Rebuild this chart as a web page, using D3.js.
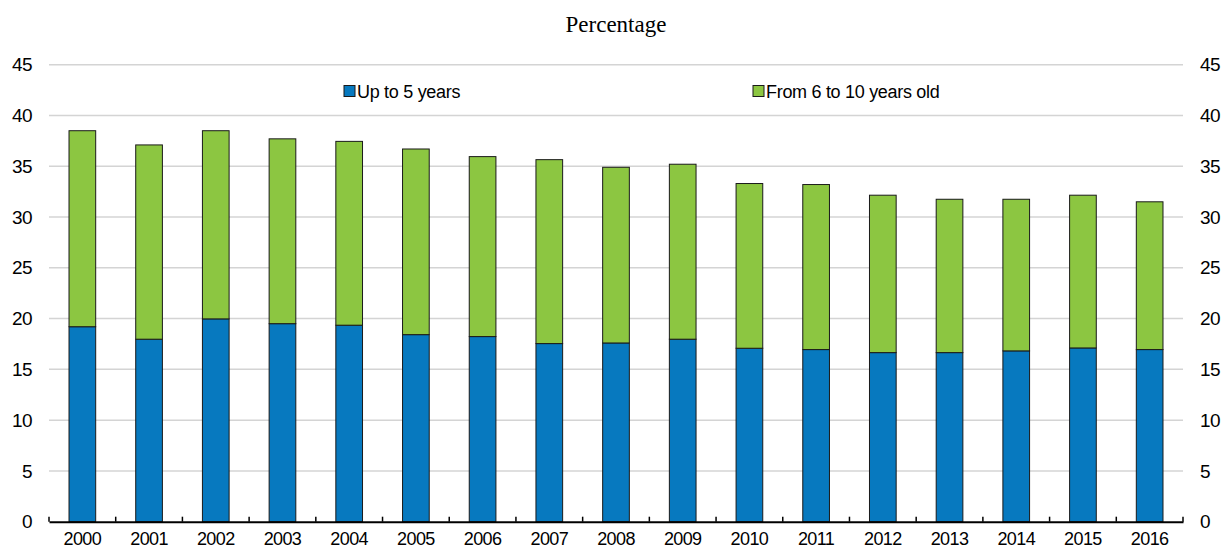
<!DOCTYPE html>
<html><head><meta charset="utf-8">
<script src="https://cdn.jsdelivr.net/npm/d3@7"></script>
<style>body{margin:0;background:#fff}svg{display:block}</style>
</head><body><svg id="c" width="1224" height="550"></svg>
<script>
const years = ["2000","2001","2002","2003","2004","2005","2006","2007","2008","2009","2010","2011","2012","2013","2014","2015","2016"];
const upTo5 = [19.2,17.97,19.97,19.5,19.35,18.42,18.23,17.54,17.6,17.97,17.08,16.95,16.65,16.65,16.82,17.11,16.95];
const from6to10 = [19.3,19.13,18.53,18.2,18.1,18.28,17.72,18.11,17.3,17.23,16.22,16.25,15.5,15.1,14.93,15.04,14.55];
const seriesNames = ["Up to 5 years","From 6 to 10 years old"];
const colors = ["#0779BF","#8CC641"];
const yTicks = [0,5,10,15,20,25,30,35,40,45];
const title = "Percentage";

const svg = d3.select("#c");
const L = 49, R = 1183, T = 64.7, B = 521.7;
const x = d3.scaleBand().domain(years).range([L,R]).paddingInner(0.6).paddingOuter(0.3);
const xb = d3.scaleBand().domain(years).range([L,R]);
const y = d3.scaleLinear().domain([0,45]).range([B,T]);
const font = "'Liberation Sans',Arial,sans-serif";

// gridlines
svg.append("g").selectAll("line").data(yTicks.filter(d=>d>0)).join("line")
  .attr("x1",L).attr("x2",R).attr("y1",d=>y(d)).attr("y2",d=>y(d))
  .attr("stroke","#d4d4d4").attr("stroke-width",1.5);

// title
svg.append("text").attr("x",(L+R)/2).attr("y",32).attr("text-anchor","middle")
  .attr("font-family","'Liberation Serif','Times New Roman',serif").attr("font-size",23)
  .attr("fill","#000").text(title);

// stacked bars
const data = years.map((yr,i)=>({year:yr, a:upTo5[i], b:from6to10[i]}));
const stack = d3.stack().keys(["a","b"])(data);
svg.append("g").selectAll("g").data(stack).join("g")
  .attr("fill",(d,i)=>colors[i])
  .selectAll("rect").data(d=>d).join("rect")
  .attr("x",d=>x(d.data.year)).attr("width",x.bandwidth())
  .attr("y",d=>y(d[1])).attr("height",d=>y(d[0])-y(d[1]))
  .attr("stroke","#1a1a1a").attr("stroke-width",1);

// x axis
const xAxis = d3.axisBottom(xb).tickSize(0).tickPadding(0);
const gx = svg.append("g").attr("transform",`translate(0,${B})`).call(xAxis);
gx.select(".domain").attr("stroke","#000").attr("stroke-width",2);
gx.selectAll("text").attr("font-family",font).attr("font-size",18).attr("fill","#000")
  .attr("letter-spacing","-0.6px").attr("dy",null).attr("y",23);
// category boundary ticks
svg.append("g").selectAll("line").data(years.map(d=>xb(d)).concat([R])).join("line")
  .attr("x1",d=>d).attr("x2",d=>d).attr("y1",B-5).attr("y2",B)
  .attr("stroke","#000").attr("stroke-width",1.5);

// y axes
const yl = svg.append("g").attr("transform",`translate(${L},0)`)
  .call(d3.axisLeft(y).tickValues(yTicks).tickSize(0).tickPadding(17));
const yr = svg.append("g").attr("transform",`translate(${R},0)`)
  .call(d3.axisRight(y).tickValues(yTicks).tickSize(0).tickPadding(17));
[yl,yr].forEach(g=>{
  g.select(".domain").remove();
  g.selectAll("text").attr("font-family",font).attr("font-size",19).attr("fill","#000")
    .attr("letter-spacing","-0.6px");
});

// legend
const legX = [344, 753];
const lg = svg.append("g").selectAll("g").data(seriesNames).join("g")
  .attr("transform",(d,i)=>`translate(${legX[i]},${91})`);
lg.append("rect").attr("x",0).attr("y",-5.5).attr("width",11).attr("height",11)
  .attr("fill",(d,i)=>colors[i]).attr("stroke","#1a1a1a").attr("stroke-width",1);
lg.append("text").attr("x",13).attr("y",6.5).attr("font-family",font).attr("font-size",18)
  .attr("letter-spacing","-0.3px").attr("fill","#000").text(d=>d);
</script></body></html>
